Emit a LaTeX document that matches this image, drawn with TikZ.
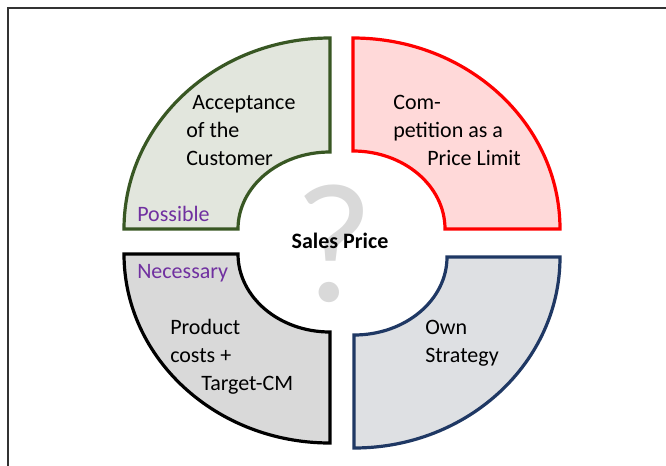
\documentclass[tikz,border=0pt]{standalone}
\usepackage{fontspec}
\setmainfont{Carlito}
\definecolor{qgreen}{RGB}{56,87,35}
\definecolor{qgreenfill}{RGB}{226,230,221}
\definecolor{qred}{RGB}{255,0,0}
\definecolor{qredfill}{RGB}{255,217,217}
\definecolor{qblackfill}{RGB}{217,217,217}
\definecolor{qblue}{RGB}{31,56,100}
\definecolor{qbluefill}{RGB}{222,224,227}
\definecolor{qpurple}{RGB}{112,48,160}
\definecolor{qmark}{RGB}{217,217,217}
\definecolor{qframe}{RGB}{50,50,50}
\begin{document}
\begin{tikzpicture}[x=0.75pt,y=-0.75pt,
  quad/.style={line width=2.4pt},
  lbl/.style={anchor=base west,inner sep=0pt,font=\fontsize{16.5}{20}\selectfont},
  sublbl/.style={lbl,text=qpurple}]
\useasboundingbox (0,0) rectangle (666,465);
\clip (0,0) rectangle (666,465);
\fill[white] (0,0) rectangle (666,465);
% frame
\draw[qframe,line width=1.5pt] (8,480) -- (8,8) -- (680,8);
% quadrants
\draw[quad,draw=qgreen,fill=qgreenfill] (124,229) arc[start angle=180,end angle=270,x radius=206,y radius=191]
  -- (330,152) arc[start angle=270,end angle=180,x radius=92,y radius=77] -- cycle;
\draw[quad,draw=qred,fill=qredfill] (353,38) arc[start angle=270,end angle=360,x radius=207,y radius=191]
  -- (445,229) arc[start angle=360,end angle=270,x radius=92,y radius=78] -- cycle;
\draw[quad,draw=black,fill=qblackfill] (124,254) arc[start angle=180,end angle=90,x radius=206,y radius=189]
  -- (330,332) arc[start angle=90,end angle=180,x radius=92,y radius=78] -- cycle;
\draw[quad,draw=qblue,fill=qbluefill] (560,257) arc[start angle=0,end angle=90,x radius=206,y radius=191]
  -- (354,335) arc[start angle=90,end angle=0,x radius=93,y radius=78] -- cycle;
% centre
\node[inner sep=0pt,text=qmark,font=\fontsize{128}{130}\selectfont,text depth=0pt] (qm) at (334,243) {?};
\node[inner sep=0pt,anchor=base,font=\fontsize{16.5}{20}\selectfont\bfseries] (sp) at (340,248) {Sales Price};
% labels
\node[lbl] (a1) at (192,109) {Acceptance};
\node[lbl] (a2) at (186,137) {of the};
\node[lbl] (a3) at (186,165) {Customer};
\node[sublbl] (pos) at (137,221) {Possible};
\node[lbl] (c1) at (393,109) {Com-};
\node[lbl] (c2) at (393,137) {petition as a};
\node[lbl] (c3) at (427,165) {Price Limit};
\node[sublbl] (nec) at (137,278) {Necessary};
\node[lbl] (p1) at (170,334) {Product};
\node[lbl] (p2) at (170,362) {costs +};
\node[lbl] (p3) at (201,390) {Target-CM};
\node[lbl] (o1) at (425,334) {Own};
\node[lbl] (o2) at (425,362) {Strategy};
\end{tikzpicture}
\end{document}
